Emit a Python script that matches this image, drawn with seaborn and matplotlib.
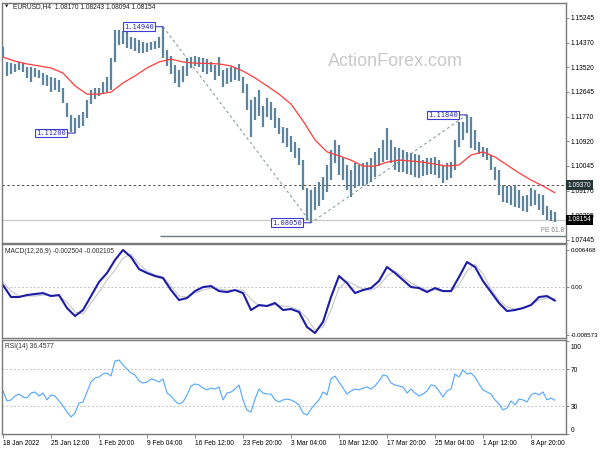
import numpy as np
import pandas as pd
import matplotlib
matplotlib.use("Agg")
import matplotlib.pyplot as plt
import matplotlib.transforms as mtransforms
import seaborn as sns

# ---------------- data ----------------
highs = [1.1423, 1.1370, 1.1366, 1.1363, 1.1370, 1.1366, 1.1352, 1.1352, 1.1349, 1.1342,
         1.1331, 1.1324, 1.1317, 1.1314, 1.1307, 1.1278, 1.1226, 1.1184, 1.1173, 1.1184,
         1.1194, 1.1236, 1.1271, 1.1278, 1.1278, 1.1300, 1.1317, 1.1384, 1.1482, 1.1482,
         1.1478, 1.1475, 1.1457, 1.1454, 1.1447, 1.1440, 1.1436, 1.1440, 1.1444, 1.1457,
         1.1494, 1.1412, 1.1391, 1.1359, 1.1342, 1.1356, 1.1384, 1.1387, 1.1391, 1.1387,
         1.1384, 1.1380, 1.1370, 1.1359, 1.1387, 1.1342, 1.1349, 1.1352, 1.1352, 1.1363,
         1.1317, 1.1293, 1.1236, 1.1247, 1.1271, 1.1215, 1.1243, 1.1229, 1.1208, 1.1173,
         1.1141, 1.1138, 1.1110, 1.1089, 1.1068, 1.1026, 1.0927, 1.0920, 1.0931, 1.0948,
         1.0966, 1.1008, 1.1061, 1.1096, 1.1078, 1.1033, 1.1008, 1.0990, 1.1015, 1.1008,
         1.1015, 1.1019, 1.1033, 1.1054, 1.1068, 1.1096, 1.1138, 1.1096, 1.1071, 1.1068,
         1.1061, 1.1054, 1.1050, 1.1047, 1.1043, 1.1026, 1.1033, 1.1033, 1.1036, 1.1026,
         1.1008, 1.1015, 1.1019, 1.1096, 1.1159, 1.1159, 1.1184, 1.1177, 1.1131, 1.1089,
         1.1071, 1.1068, 1.1043, 1.1001, 1.0990, 1.0938, 1.0934, 1.0934, 1.0938, 1.0920,
         1.0899, 1.0902, 1.0927, 1.0920, 1.0906, 1.0902, 1.0864, 1.0850, 1.0843]
lows = [1.1384, 1.1321, 1.1328, 1.1335, 1.1342, 1.1335, 1.1314, 1.1300, 1.1317, 1.1314,
        1.1289, 1.1286, 1.1264, 1.1271, 1.1264, 1.1226, 1.1177, 1.1124, 1.1120, 1.1138,
        1.1145, 1.1173, 1.1222, 1.1240, 1.1250, 1.1257, 1.1264, 1.1271, 1.1370, 1.1430,
        1.1433, 1.1419, 1.1415, 1.1408, 1.1401, 1.1401, 1.1405, 1.1412, 1.1415, 1.1419,
        1.1384, 1.1356, 1.1328, 1.1296, 1.1282, 1.1300, 1.1321, 1.1349, 1.1356, 1.1352,
        1.1335, 1.1328, 1.1335, 1.1307, 1.1321, 1.1282, 1.1293, 1.1300, 1.1307, 1.1303,
        1.1261, 1.1201, 1.1106, 1.1166, 1.1180, 1.1141, 1.1177, 1.1166, 1.1138, 1.1117,
        1.1085, 1.1071, 1.1054, 1.1033, 1.1008, 1.0920, 1.0815, 1.0805, 1.0850, 1.0864,
        1.0885, 1.0913, 1.0955, 1.1015, 1.0973, 1.0955, 1.0920, 1.0896, 1.0927, 1.0934,
        1.0934, 1.0941, 1.0948, 1.0966, 1.1004, 1.1019, 1.1026, 1.1015, 1.0990, 1.0983,
        1.0983, 1.0976, 1.0973, 1.0966, 1.0962, 1.0969, 1.0973, 1.0976, 1.0973, 1.0962,
        1.0945, 1.0955, 1.0962, 1.0990, 1.1071, 1.1096, 1.1120, 1.1068, 1.1061, 1.1047,
        1.1036, 1.1026, 1.0990, 1.0955, 1.0902, 1.0878, 1.0875, 1.0868, 1.0861, 1.0857,
        1.0846, 1.0843, 1.0864, 1.0868, 1.0850, 1.0832, 1.0815, 1.0811, 1.0809]
# moving average (every 3rd bar)
ma_values = [1.1387, 1.1373, 1.1363, 1.1356, 1.1349, 1.1331, 1.1286, 1.1257, 1.1257, 1.1264,
             1.1296, 1.1321, 1.1349, 1.1370, 1.1380, 1.1370, 1.1366, 1.1365, 1.1363, 1.1356,
             1.1338, 1.1314, 1.1286, 1.1257, 1.1222, 1.1163, 1.1096, 1.1054, 1.1040, 1.1025,
             1.1004, 1.1004, 1.1018, 1.1025, 1.1022, 1.1018, 1.1011, 1.1004, 1.1008, 1.1043,
             1.1054, 1.1036, 1.1008, 1.0980, 1.0955, 1.0934, 1.0910]
# MACD main and signal (every 2nd bar)
macd_main = [0.00027, -0.00185, -0.00185, -0.00150, -0.00132, -0.00115, -0.00168, -0.00150, -0.00380, -0.00521,
             -0.00415, -0.00168, 0.00080, 0.00240, 0.00470, 0.00647, 0.00523, 0.00310, 0.00240, 0.00187,
             0.00151, -0.00062, -0.00238, -0.00203, -0.00080, -0.00009, 0.00009, -0.00080, -0.00097, -0.00062,
             -0.00115, -0.00415, -0.00327, -0.00344, -0.00291, -0.00415, -0.00397, -0.00450, -0.00716, -0.00822,
             -0.00627, -0.00185, 0.00187, 0.00062, -0.00115, -0.00062, -0.00026, 0.00098, 0.00346, 0.00240,
             0.00116, -0.00009, -0.00026, -0.00097, -0.00026, -0.00080, -0.00080, 0.00169, 0.00434, 0.00346,
             0.00098, -0.00097, -0.00291, -0.00433, -0.00415, -0.00380, -0.00327, -0.00185, -0.00168, -0.00250]
macd_signal = [0.00080, -0.00080, -0.00168, -0.00168, -0.00168, -0.00150, -0.00150, -0.00168, -0.00274, -0.00450,
               -0.00486, -0.00291, -0.00097, 0.00116, 0.00293, 0.00505, 0.00576, 0.00399, 0.00275, 0.00204,
               0.00169, 0.00009, -0.00168, -0.00185, -0.00115, -0.00062, -0.00026, -0.00044, -0.00062, -0.00062,
               -0.00062, -0.00221, -0.00344, -0.00344, -0.00327, -0.00344, -0.00362, -0.00415, -0.00557, -0.00769,
               -0.00716, -0.00415, -0.00026, 0.00098, 0.00027, -0.00044, -0.00062, 0.00009, 0.00187, 0.00275,
               0.00169, 0.00062, -0.00009, -0.00062, -0.00062, -0.00080, -0.00080, 0.00027, 0.00275, 0.00399,
               0.00222, -0.00044, -0.00238, -0.00362, -0.00397, -0.00380, -0.00327, -0.00238, -0.00203, -0.00211]
rsi_values = [46.5, 35.7, 36.8, 41.1, 43.2, 40.0, 38.9, 44.3, 45.4, 41.1,
              44.3, 36.8, 42.2, 41.1, 35.7, 30.3, 23.8, 18.4, 22.7, 33.5,
              34.6, 45.4, 56.2, 60.5, 61.6, 64.9, 65.9, 62.7, 78.9, 80.0,
              74.6, 70.3, 65.9, 63.8, 57.3, 55.1, 56.2, 59.5, 58.4, 56.2,
              59.5, 44.3, 41.1, 35.7, 32.4, 34.6, 42.2, 51.9, 54.1, 53.0,
              49.7, 47.6, 49.7, 48.6, 50.8, 36.8, 44.3, 45.4, 48.6, 53.0,
              36.8, 25.9, 23.8, 37.8, 48.6, 44.3, 43.2, 43.2, 36.8, 34.6,
              36.8, 37.8, 36.8, 34.6, 31.4, 22.7, 20.5, 27.0, 32.4, 36.8,
              45.4, 42.2, 59.5, 62.7, 56.2, 49.7, 43.2, 46.5, 48.6, 47.6,
              49.7, 50.8, 48.6, 51.9, 57.3, 63.8, 62.7, 55.1, 53.0, 51.9,
              50.8, 44.3, 48.6, 44.3, 41.1, 43.2, 46.5, 53.0, 51.9, 46.5,
              40.0, 46.5, 48.6, 64.9, 61.6, 69.2, 64.9, 65.9, 61.6, 54.1,
              47.6, 45.4, 43.2, 36.8, 32.4, 25.9, 28.1, 35.7, 31.4, 37.8,
              36.8, 34.6, 42.2, 44.3, 42.2, 45.4, 36.8, 38.9, 36.5]

price_ticks = [1.15245, 1.14370, 1.13520, 1.12645, 1.11770, 1.10920, 1.10045, 1.09170, 1.08295, 1.07445]
macd_ticks = [0.006468, 0.0, -0.008573]
macd_tick_labels = ["0.006468", "0.00", "-0.008573"]
rsi_ticks = [0, 30, 70, 100]
date_labels = ["18 Jan 2022", "25 Jan 12:00", "1 Feb 20:00", "9 Feb 04:00", "16 Feb 12:00",
               "23 Feb 20:00", "3 Mar 04:00", "10 Mar 12:00", "17 Mar 20:00", "25 Mar 04:00",
               "1 Apr 12:00", "8 Apr 20:00"]
swing_bars = [40, 18, 77, 116]
swing_prices = [1.14940, 1.11200, 1.08050, 1.11840]
fibo_bars = [40, 77, 116]
fibo_prices = [1.14940, 1.08050, 1.11840]
fe_level = 1.07580
level_line = 1.09370
last_close = 1.08154
header = "EURUSD,H4  1.08170 1.08243 1.08094 1.08154"
macd_header = "MACD(12,26,9) -0.002504 -0.002105"
rsi_header = "RSI(14) 36.4577"

# ---------------- styling ----------------
sns.set_theme(style="white")
plt.rcParams["font.family"] = ["Liberation Sans", "DejaVu Sans"]
BAR_C = "#5a84a0"
SPINE_C = "#7a7a7a"
FS = 4.8

W, H = 600, 450
fig = plt.figure(figsize=(6, 4.5), dpi=100)
fig.patch.set_facecolor("white")


def rect(x0, y0, x1, y1):
    return [x0 / W, 1 - y1 / H, (x1 - x0) / W, (y1 - y0) / H]


ax_p = fig.add_axes(rect(2, 3, 566, 243))
ax_m = fig.add_axes(rect(2, 244, 566, 338), sharex=ax_p)
ax_r = fig.add_axes(rect(2, 340, 566, 434), sharex=ax_p)

bars = pd.DataFrame({"bar": np.arange(len(highs)), "high": highs, "low": lows, "rsi": rsi_values})
ma_df = pd.DataFrame({"bar": np.arange(0, len(highs), 3)[:len(ma_values)], "ma": ma_values})
macd_df = pd.DataFrame({"bar": np.arange(0, len(highs), 2)[:len(macd_main)],
                        "main": macd_main, "signal": macd_signal})

# ---- price panel ----
ax_p.axhline(last_close, color="#c8c8c8", lw=0.9, zorder=1)
ax_p.axhline(level_line, color="#505050", lw=0.7, ls=(0, (2.5, 2.5)), zorder=1)
ax_p.hlines(fe_level, fibo_bars[0] - 0.75, 141, color="#6c7c7c", lw=1.0, zorder=1)
ax_p.plot(fibo_bars, fibo_prices, color="#8a9e9e", lw=0.8, ls=(0, (2.5, 2.5)), zorder=2)
ax_p.vlines(bars["bar"], bars["low"], bars["high"], color=BAR_C, lw=1.6, zorder=3)
sns.lineplot(data=ma_df, x="bar", y="ma", ax=ax_p, color="#ff3c3c", lw=0.9,
             estimator=None, legend=False, zorder=4)

for b, p in zip(swing_bars, swing_prices):
    ax_p.annotate(f"{p:.5f}", xy=(b, p), xytext=(-9, 0), textcoords="offset pixels",
                  ha="right", va="center", fontsize=5.0, family="DejaVu Sans Mono",
                  color="#2b2bb0", zorder=6,
                  bbox=dict(boxstyle="square,pad=0.18", fc="white", ec="#3c3cd0", lw=0.8),
                  arrowprops=dict(arrowstyle="-", color="#3c3cd0", lw=0.8,
                                  shrinkA=0, shrinkB=0))

ax_p.set_xlim(-0.25, 140.75)
ax_p.set_ylim(1.07338, 1.15772)
ax_p.yaxis.tick_right()
ax_p.set_yticks(price_ticks)
ax_p.set_yticklabels([f"{t:.5f}" for t in price_ticks])
ax_p.tick_params(axis="x", bottom=False, labelbottom=False)

trans_p = mtransforms.blended_transform_factory(ax_p.transAxes, ax_p.transData)
ax_p.text(0.997, fe_level + 0.0006, "FE 61.8", transform=trans_p, ha="right", va="bottom",
          fontsize=FS, color="#808080")
ax_p.text(1.003, level_line, "1.09370", transform=trans_p, ha="left", va="center",
          fontsize=FS, color="white", clip_on=False, zorder=10,
          bbox=dict(boxstyle="square,pad=0.25", fc="#263535", ec="none"))
ax_p.text(1.003, last_close, "1.08154", transform=trans_p, ha="left", va="center",
          fontsize=FS, color="white", clip_on=False, zorder=10,
          bbox=dict(boxstyle="square,pad=0.25", fc="black", ec="none"))

# ---- MACD panel ----
ax_m.axhline(0, color="#c4c4c4", lw=0.7, ls=(0, (2, 2)))
sns.lineplot(data=macd_df, x="bar", y="signal", ax=ax_m, color="#c6c6c6", lw=0.8,
             estimator=None, legend=False)
sns.lineplot(data=macd_df, x="bar", y="main", ax=ax_m, color="#1c1ca6", lw=1.5,
             estimator=None, legend=False)
ax_m.set_ylim(-0.00910, 0.00753)
ax_m.yaxis.tick_right()
ax_m.set_yticks(macd_ticks)
ax_m.set_yticklabels(macd_tick_labels)
ax_m.tick_params(axis="x", bottom=False, labelbottom=False)

# ---- RSI panel ----
ax_r.axhline(70, color="#c4c4c4", lw=0.7, ls=(0, (2, 2)))
ax_r.axhline(30, color="#c4c4c4", lw=0.7, ls=(0, (2, 2)))
sns.lineplot(data=bars, x="bar", y="rsi", ax=ax_r, color="#4fa6ff", lw=0.8,
             estimator=None, legend=False)
ax_r.set_ylim(0, 101.6)
ax_r.yaxis.tick_right()
ax_r.set_yticks(rsi_ticks)
ax_r.set_yticklabels([str(t) for t in rsi_ticks])
ax_r.set_xticks(np.arange(0, 12 * len(date_labels), 12))
ax_r.set_xticklabels(date_labels, ha="left")

for ax in (ax_p, ax_m, ax_r):
    ax.set_xlabel("")
    ax.set_ylabel("")
    ax.set_facecolor("white")
    for s in ax.spines.values():
        s.set_color(SPINE_C)
        s.set_linewidth(1.0)
    ax.tick_params(axis="y", right=True, left=False, labelright=True, labelleft=False,
                   length=2.5, width=0.6, color=SPINE_C, labelsize=FS, pad=0.8,
                   labelcolor="black")
ax_r.tick_params(axis="x", bottom=True, length=3, width=0.6, color=SPINE_C,
                 labelsize=FS, pad=1.5, labelcolor="black")
ax_m.tick_params(axis="y", labelsize=4.4)

# shift the RSI 0/100 labels inward like the terminal does
dpi_tr = fig.dpi_scale_trans
for tick, val in zip(ax_r.yaxis.get_major_ticks(), rsi_ticks):
    if val == 100:
        tick.label2.set_transform(tick.label2.get_transform() +
                                  mtransforms.ScaledTranslation(0, -0.05, dpi_tr))
    elif val == 0:
        tick.label2.set_transform(tick.label2.get_transform() +
                                  mtransforms.ScaledTranslation(0, 0.05, dpi_tr))

# ---- header texts ----
fig.text(7 / W, 1 - 7 / H, "\u25BC", fontsize=3.2, ha="center", va="center",
         family=["DejaVu Sans"])
fig.text(13 / W, 1 - 7 / H, header, fontsize=FS, ha="left", va="center", color="#202020")
fig.text(5 / W, 1 - 251 / H, macd_header, fontsize=FS, ha="left", va="center", color="#303030")
fig.text(5 / W, 1 - 347 / H, rsi_header, fontsize=FS, ha="left", va="center", color="#303030")
fig.text(395 / W, 1 - 61 / H, "ActionForex.com", fontsize=13, ha="center", va="center",
         color="#c9c9c9")

fig.savefig("out.png", dpi=100, facecolor="white")
